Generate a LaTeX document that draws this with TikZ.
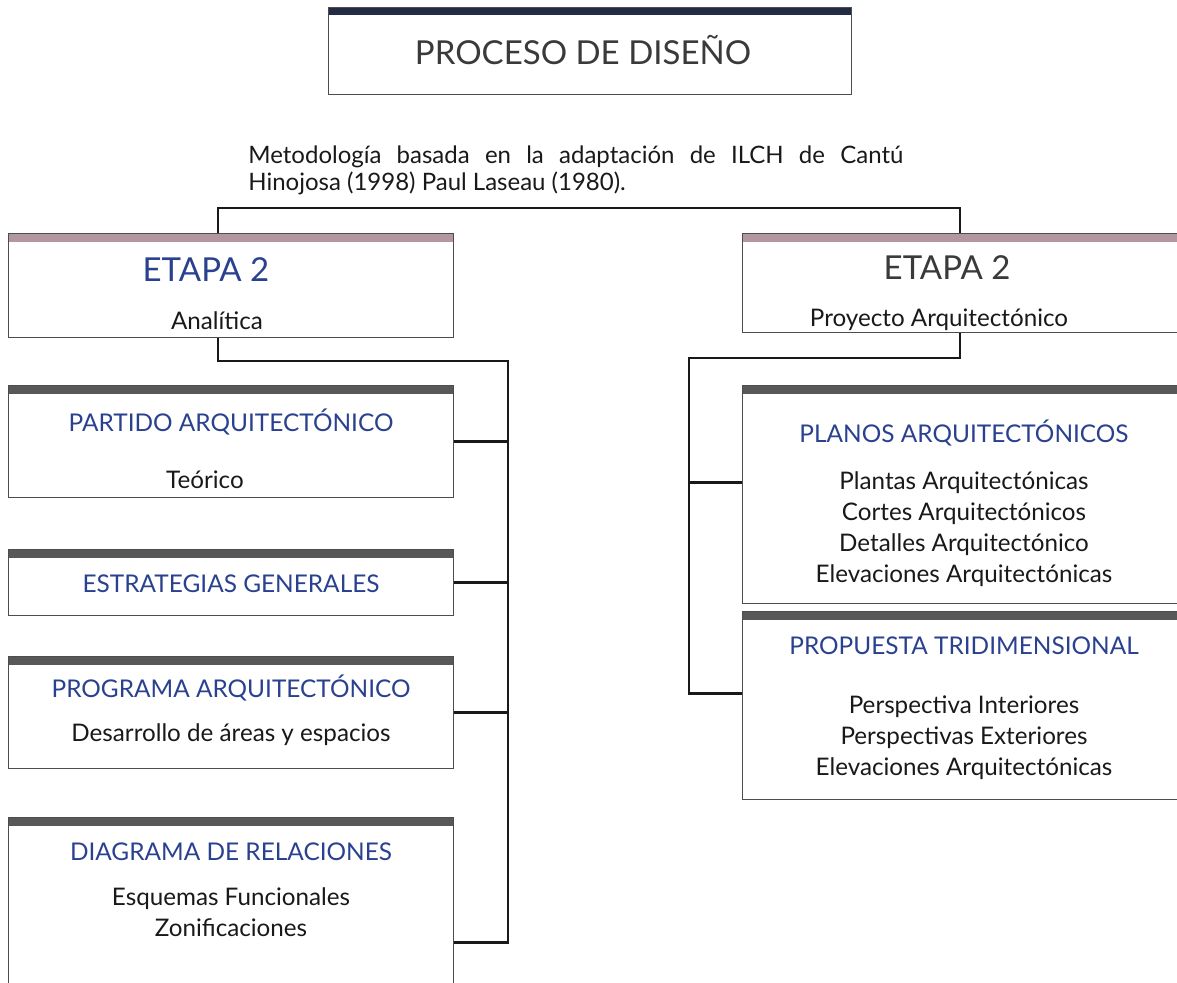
\documentclass[tikz,border=0pt]{standalone}
\usepackage{fontspec}
\setmainfont{Lato}
\definecolor{navybar}{HTML}{232B45}
\definecolor{mauvebar}{HTML}{B2979F}
\definecolor{darkbar}{HTML}{585858}
\definecolor{headblue}{HTML}{2A4190}
\definecolor{textgray}{HTML}{3A3A3A}
\definecolor{boxline}{HTML}{4D4D4D}
\begin{document}
\begin{tikzpicture}[x=0.5pt, y=-0.5pt,
        box/.style={draw=boxline, line width=0.6pt, fill=white, anchor=north west, inner sep=0pt},
        topbar/.style n args={2}{path picture={\fill[#1] (path picture bounding box.north west) rectangle ([yshift=-#2]path picture bounding box.north east);}},
        conn/.style={line width=1.25pt, black!90},
        heading/.style={font=\fontsize{12.2}{14}\selectfont, text=headblue},
        body/.style={font=\fontsize{12.1}{15.5}\selectfont, align=center, text=black!90},
        stage/.style={font=\fontsize{16.5}{20}\selectfont}
    ]
    \useasboundingbox (0,0) rectangle (1177,983);

    % Title
    \node[box, topbar={navybar}{3.5pt}, minimum width=261.5pt, minimum height=43.5pt] (titlebox) at (328,7) {};
    \node[font=\fontsize{16.5}{20}\selectfont, text=textgray] (title) at (583,50) {PROCESO DE DISEÑO};
    \node[font=\fontsize{12}{13.5}\selectfont, text width=327.5pt, align=justify, anchor=north west, inner sep=0pt, text=black!90] (method) at (248,145)
        {Metodología basada en la adaptación de ILCH de Cantú\linebreak Hinojosa (1998) Paul Laseau (1980).};

    % Stages
    \node[box, topbar={mauvebar}{4pt}, minimum width=222.5pt, minimum height=52pt] (etapaA) at (8,233) {};
    \node[stage, text=headblue] at (206,270) {ETAPA 2};
    \node[body] at (217,321) {Analítica};

    \node[box, topbar={mauvebar}{4pt}, minimum width=230pt, minimum height=49.5pt] (etapaB) at (742,233) {};
    \node[stage, text=textgray] at (947,268) {ETAPA 2};
    \node[body] at (939,320) {Proyecto Arquitectónico};

    % Left branch
    \node[box, topbar={darkbar}{4pt}, minimum width=222.5pt, minimum height=56pt] (partido) at (8,385) {};
    \node[heading] at (231,422) {PARTIDO ARQUITECTÓNICO};
    \node[body] at (205,480) {Teórico};

    \node[box, topbar={darkbar}{4pt}, minimum width=222.5pt, minimum height=33pt] (estrategias) at (8,549) {};
    \node[heading] at (231,584) {ESTRATEGIAS GENERALES};

    \node[box, topbar={darkbar}{4pt}, minimum width=222.5pt, minimum height=56pt] (programa) at (8,656) {};
    \node[heading] at (231,688) {PROGRAMA ARQUITECTÓNICO};
    \node[body] at (231,735) {Desarrollo de áreas y espacios};

    \node[box, topbar={darkbar}{4pt}, minimum width=222.5pt, minimum height=125pt] (diagrama) at (8,817) {};
    \node[heading] at (231,852) {DIAGRAMA DE RELACIONES};
    \node[body, anchor=north] at (231,881) {Esquemas Funcionales\\Zonificaciones};

    % Right branch
    \node[box, topbar={darkbar}{4pt}, minimum width=230pt, minimum height=109pt] (planos) at (742,385) {};
    \node[heading] at (964,433) {PLANOS ARQUITECTÓNICOS};
    \node[body, anchor=north] at (964,465) {Plantas Arquitectónicas\\Cortes Arquitectónicos\\Detalles Arquitectónico\\Elevaciones Arquitectónicas};

    \node[box, topbar={darkbar}{4pt}, minimum width=230pt, minimum height=94pt] (propuesta) at (742,611) {};
    \node[heading] at (964,646) {PROPUESTA TRIDIMENSIONAL};
    \node[body, anchor=north] at (964,689) {Perspectiva Interiores\\Perspectivas Exteriores\\Elevaciones Arquitectónicas};

    % Connectors
    \coordinate (jA) at (218,208);
    \coordinate (jB) at (960,208);
    \coordinate (busA) at (508,361);
    \coordinate (busB) at (689,358);
    \draw[conn] (etapaA.north -| jA) -- (jA) -- (jB) -- (etapaB.north -| jB);
    \draw[conn] (etapaA.south -| jA) |- (busA) |- (diagrama.east);
    \foreach \n in {partido, estrategias, programa}
        \draw[conn] (\n.east) -- (\n.east -| busA);
    \draw[conn] (etapaB.south -| jB) |- (busB) |- ([yshift=6pt]propuesta.west);
    \draw[conn] ([yshift=6pt]planos.west) -- ([yshift=6pt]planos.west -| busB);

\end{tikzpicture}
\end{document}
